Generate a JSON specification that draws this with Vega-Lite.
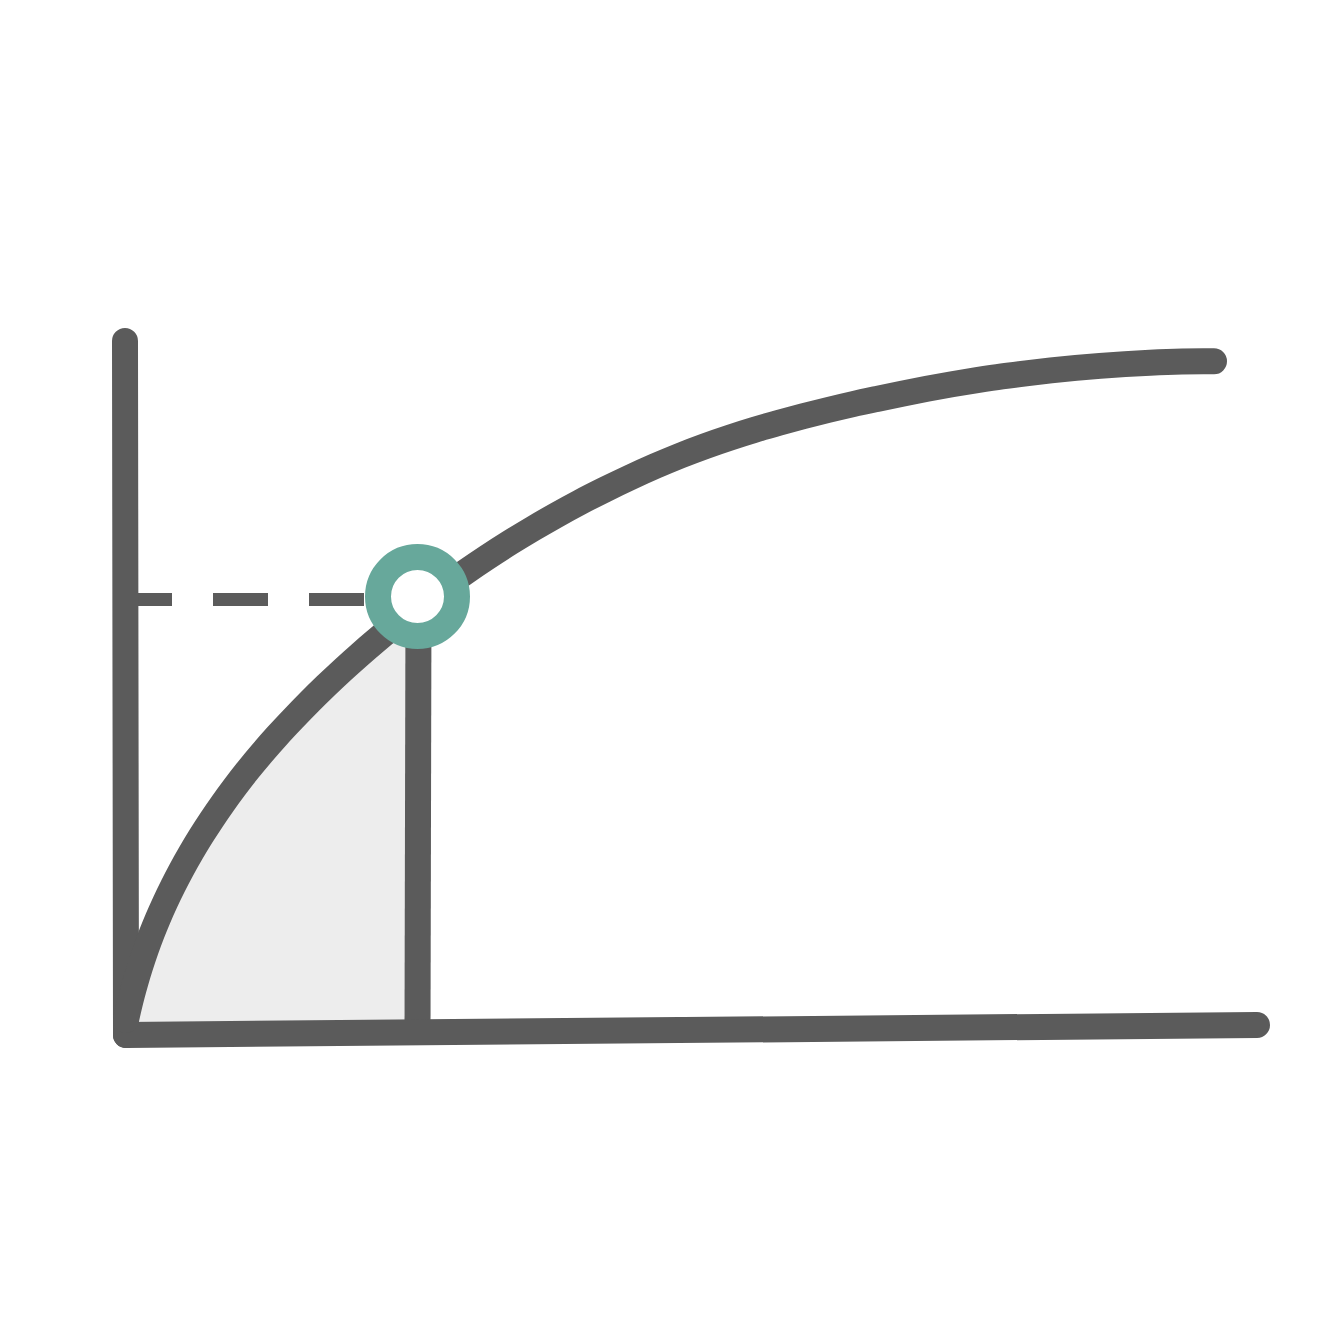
{
  "$schema": "https://vega.github.io/schema/vega-lite/v6.json",
  "autosize": {"type": "fit", "contains": "padding"},
  "width": 1317,
  "height": 1319,
  "padding": 0,
  "background": "#ffffff",
  "config": {"view": {"stroke": null}},
  "datasets": {
    "curve": [
      {"x": 0.0, "y": 0.15, "a": 1},
      {"x": 0.03, "y": 0.282, "a": 1},
      {"x": 0.06, "y": 0.402, "a": 1},
      {"x": 0.10, "y": 0.546, "a": 1},
      {"x": 0.14, "y": 0.678, "a": 1},
      {"x": 0.20, "y": 0.858, "a": 1},
      {"x": 0.26, "y": 1.02, "a": 1},
      {"x": 0.32, "y": 1.167, "a": 1},
      {"x": 0.39, "y": 1.324, "a": 1},
      {"x": 0.47, "y": 1.49, "a": 1},
      {"x": 0.55, "y": 1.644, "a": 1},
      {"x": 0.65, "y": 1.822, "a": 1},
      {"x": 0.75, "y": 1.988, "a": 1},
      {"x": 0.86, "y": 2.158, "a": 1},
      {"x": 0.97, "y": 2.318, "a": 1},
      {"x": 1.09, "y": 2.482, "a": 1},
      {"x": 1.22, "y": 2.65, "a": 1},
      {"x": 1.36, "y": 2.819, "a": 1},
      {"x": 1.51, "y": 2.99, "a": 1},
      {"x": 1.67, "y": 3.161, "a": 1},
      {"x": 1.83, "y": 3.326, "a": 1},
      {"x": 2.00, "y": 3.493, "a": 1},
      {"x": 2.17, "y": 3.653, "a": 1},
      {"x": 2.34, "y": 3.806, "a": 1},
      {"x": 2.49, "y": 3.935, "a": 1},
      {"x": 2.66, "y": 4.076, "a": 1},
      {"x": 2.84, "y": 4.22, "a": 1},
      {"x": 2.94, "y": 4.298, "a": 1},
      {"x": 3.02, "y": 4.359, "a": 0},
      {"x": 3.20, "y": 4.492, "a": 0},
      {"x": 3.38, "y": 4.62, "a": 0},
      {"x": 3.61, "y": 4.776, "a": 0},
      {"x": 3.84, "y": 4.924, "a": 0},
      {"x": 4.07, "y": 5.064, "a": 0},
      {"x": 4.30, "y": 5.197, "a": 0},
      {"x": 4.54, "y": 5.328, "a": 0},
      {"x": 4.79, "y": 5.455, "a": 0},
      {"x": 5.04, "y": 5.575, "a": 0},
      {"x": 5.29, "y": 5.688, "a": 0},
      {"x": 5.54, "y": 5.793, "a": 0},
      {"x": 5.79, "y": 5.888, "a": 0},
      {"x": 6.04, "y": 5.974, "a": 0},
      {"x": 6.28, "y": 6.05, "a": 0},
      {"x": 6.53, "y": 6.122, "a": 0},
      {"x": 6.77, "y": 6.187, "a": 0},
      {"x": 7.02, "y": 6.25, "a": 0},
      {"x": 7.27, "y": 6.309, "a": 0},
      {"x": 7.52, "y": 6.363, "a": 0},
      {"x": 7.76, "y": 6.413, "a": 0},
      {"x": 8.01, "y": 6.462, "a": 0},
      {"x": 8.26, "y": 6.507, "a": 0},
      {"x": 8.51, "y": 6.548, "a": 0},
      {"x": 8.76, "y": 6.586, "a": 0},
      {"x": 9.00, "y": 6.617, "a": 0},
      {"x": 9.25, "y": 6.646, "a": 0},
      {"x": 9.50, "y": 6.671, "a": 0},
      {"x": 9.74, "y": 6.691, "a": 0},
      {"x": 9.99, "y": 6.709, "a": 0},
      {"x": 10.24, "y": 6.723, "a": 0},
      {"x": 10.56, "y": 6.734, "a": 0},
      {"x": 10.88, "y": 6.737, "a": 0}
    ],
    "axes": [
      {"seg": "yaxis", "i": 0, "x": -0.01, "y": 6.94},
      {"seg": "yaxis", "i": 1, "x": 0.0, "y": 0.0},
      {"seg": "xaxis", "i": 0, "x": 0.0, "y": 0.0},
      {"seg": "xaxis", "i": 1, "x": 11.31, "y": 0.10}
    ],
    "vline": [
      {"i": 0, "x": 2.925, "y": 4.38},
      {"i": 1, "x": 2.915, "y": 0.02}
    ],
    "dash": [
      {"i": 0, "x": -0.09, "y": 4.355},
      {"i": 1, "x": 2.915, "y": 4.355}
    ],
    "dot": [
      {"x": 2.915, "y": 4.385}
    ]
  },
  "layer": [
    {
      "data": {"name": "curve"},
      "transform": [{"filter": "datum.a === 1"}],
      "mark": {"type": "area", "color": "#ededed", "interpolate": "monotone"},
      "encoding": {
        "x": {"field": "x", "type": "quantitative", "scale": {"domain": [-1.26, 11.91], "nice": false, "zero": false}, "axis": null},
        "y": {"field": "y", "type": "quantitative", "scale": {"domain": [-2.84, 10.35], "nice": false, "zero": false}, "axis": null},
        "y2": {"datum": 0}
      }
    },
    {
      "data": {"name": "dash"},
      "mark": {"type": "line", "color": "#5b5b5b", "strokeWidth": 13, "strokeDash": [55, 41], "strokeCap": "butt"},
      "encoding": {
        "x": {"field": "x", "type": "quantitative"},
        "y": {"field": "y", "type": "quantitative"},
        "order": {"field": "i"}
      }
    },
    {
      "data": {"name": "vline"},
      "mark": {"type": "line", "color": "#5b5b5b", "strokeWidth": 26, "strokeCap": "butt"},
      "encoding": {
        "x": {"field": "x", "type": "quantitative"},
        "y": {"field": "y", "type": "quantitative"},
        "order": {"field": "i"}
      }
    },
    {
      "data": {"name": "axes"},
      "mark": {"type": "line", "color": "#5b5b5b", "strokeWidth": 26, "strokeCap": "round", "strokeJoin": "round"},
      "encoding": {
        "x": {"field": "x", "type": "quantitative"},
        "y": {"field": "y", "type": "quantitative"},
        "detail": {"field": "seg"},
        "order": {"field": "i"}
      }
    },
    {
      "data": {"name": "curve"},
      "mark": {"type": "line", "color": "#5b5b5b", "strokeWidth": 26, "strokeCap": "round", "strokeJoin": "round", "interpolate": "monotone"},
      "encoding": {
        "x": {"field": "x", "type": "quantitative"},
        "y": {"field": "y", "type": "quantitative"}
      }
    },
    {
      "data": {"name": "dot"},
      "mark": {"type": "point", "shape": "circle", "filled": true, "fill": "#ffffff", "stroke": "#67a89b", "strokeWidth": 26, "size": 6241, "opacity": 1, "fillOpacity": 1, "strokeOpacity": 1},
      "encoding": {
        "x": {"field": "x", "type": "quantitative"},
        "y": {"field": "y", "type": "quantitative"}
      }
    }
  ]
}
